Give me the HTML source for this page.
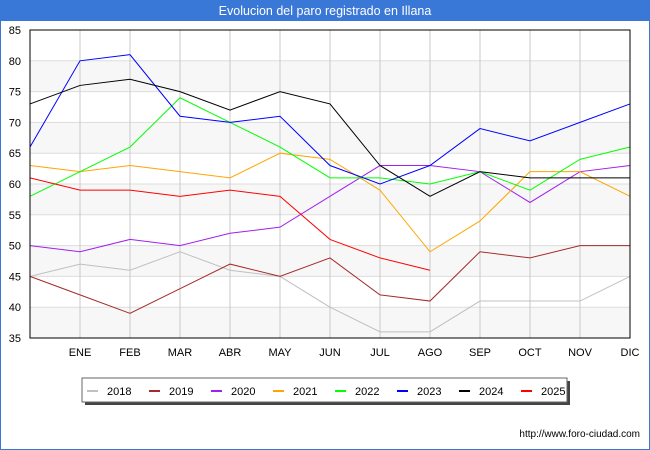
<!DOCTYPE html>
<html><head><meta charset="utf-8"><style>
body{margin:0;width:650px;height:450px;overflow:hidden;background:#fff;font-family:"Liberation Sans","DejaVu Sans",sans-serif;}
svg{display:block}
</style></head><body>
<svg id="c" width="650" height="450" xmlns="http://www.w3.org/2000/svg">
<rect x="0.5" y="0.5" width="649" height="449" fill="#fff" stroke="#3a78d8"/>
<rect x="0" y="0" width="650" height="21" fill="#3a78d8"/>
<text x="325" y="15" text-anchor="middle" fill="#fff" font-size="12.5">Evolucion del paro registrado en Illana</text>
<g id="plot"></g>
<g>
<rect x="85" y="381" width="485" height="24" fill="#444"/>
<rect x="82" y="378" width="485" height="24" fill="#fff" stroke="#666"/>
<g id="leg"></g>
</g>
<text x="640" y="437" text-anchor="end" font-size="10" fill="#000">http://www.foro-ciudad.com</text>
</svg>
<script>
const categories=["","ENE","FEB","MAR","ABR","MAY","JUN","JUL","AGO","SEP","OCT","NOV","DIC"];
const yTicks=[35,40,45,50,55,60,65,70,75,80,85];
const seriesNames=["2018","2019","2020","2021","2022","2023","2024","2025"];
const seriesColors=["#c0c0c0","#a52a2a","#a020f0","#ffa500","#00ff00","#0000ff","#000000","#ff0000"];
const s2018=[45,47,46,49,46,45,40,36,36,41,41,41,45];
const s2019=[45,42,39,43,47,45,48,42,41,49,48,50,50];
const s2020=[50,49,51,50,52,53,58,63,63,62,57,62,63];
const s2021=[63,62,63,62,61,65,64,59,49,54,62,62,58];
const s2022=[58,62,66,74,70,66,61,61,60,62,59,64,66];
const s2023=[66,80,81,71,70,71,63,60,63,69,67,70,73];
const s2024=[73,76,77,75,72,75,73,63,58,62,61,61,61];
const s2025=[61,59,59,58,59,58,51,48,46];
const seriesData=[s2018,s2019,s2020,s2021,s2022,s2023,s2024,s2025];

const NS="http://www.w3.org/2000/svg";
const L=30,R=630,T=30,B=338,yMin=35,yMax=85;
const xs=i=>L+i*(R-L)/(categories.length-1);
const ys=v=>B-(v-yMin)*(B-T)/(yMax-yMin);
const plot=document.getElementById('plot');
function mk(tag,at,parent){const e=document.createElementNS(NS,tag);for(const k in at)e.setAttribute(k,at[k]);(parent||plot).appendChild(e);return e;}
// bands
for(let i=0;i<yTicks.length-1;i++){
  if((yTicks.length-2-i)%2===1){
    const b=mk('rect',{x:L,y:ys(yTicks[i+1]),width:R-L,height:ys(yTicks[i])-ys(yTicks[i+1]),fill:'#f7f7f7'});
    
    
  }
}
yTicks.forEach(v=>{
  const g=mk('line',{x1:L,x2:R,y1:ys(v),y2:ys(v),stroke:'#ddd'});
  
  
  const t=mk('text',{x:L-9,y:ys(v)+4,'text-anchor':'end','font-size':'11',fill:'#000'});
  t.textContent=v;
  
  
});
categories.forEach((c,i)=>{
  if(i===0)return;
  const g=mk('line',{x1:xs(i),x2:xs(i),y1:T,y2:B,stroke:'#c8c8c8'});
  
  
  const t=mk('text',{x:xs(i),y:B+18,'text-anchor':'middle','font-size':'11',fill:'#000'});
  t.textContent=c;
  
  
});
seriesData.forEach((d,si)=>{
  const p=mk('polyline',{points:d.map((v,i)=>xs(i)+','+ys(v)).join(' '),fill:'none',stroke:seriesColors[si],'stroke-width':'1'});
  
  
});
const ax=mk('rect',{x:L,y:T,width:R-L,height:B-T,fill:'none',stroke:'#000'});


const leg=document.getElementById('leg');
seriesNames.forEach((n,i)=>{
  const x=87+i*62;
  const m=mk('line',{x1:x,x2:x+11,y1:391,y2:391,stroke:seriesColors[i],'stroke-width':'2'},leg);
  
  
  const t=mk('text',{x:x+20,y:395,'font-size':'11',fill:'#000'},leg);
  t.textContent=n;
  
  
});
</script>
</body></html>
